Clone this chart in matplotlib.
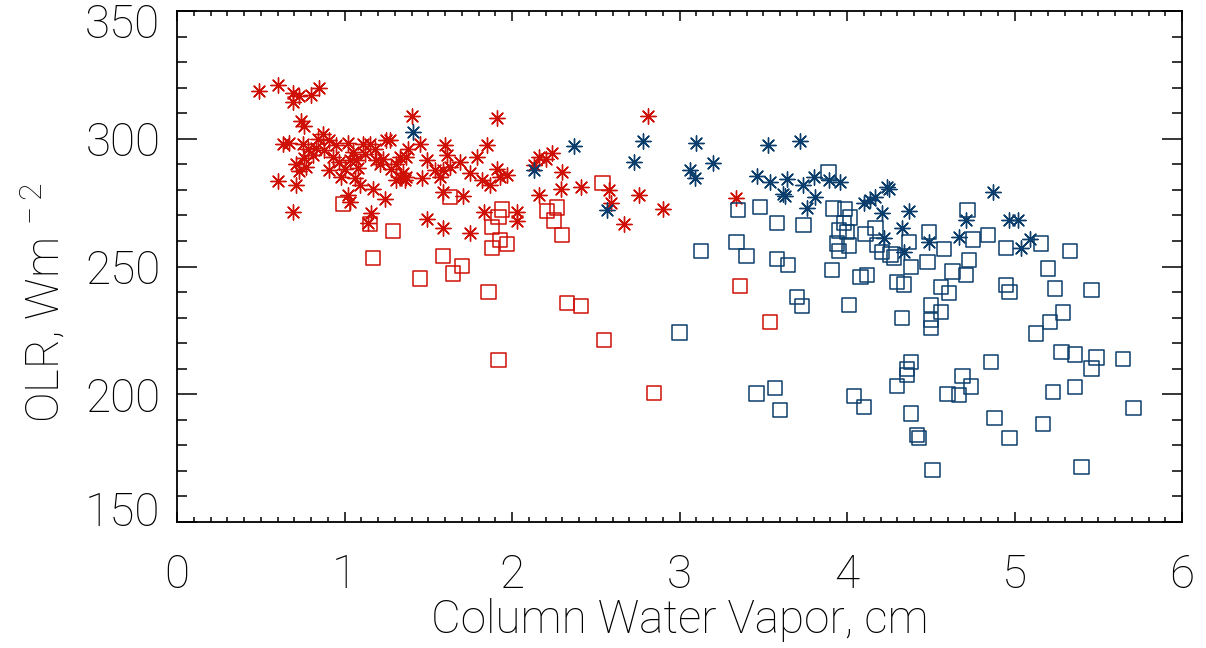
import matplotlib
matplotlib.use("Agg")
import matplotlib.pyplot as plt
from matplotlib.ticker import MultipleLocator
from matplotlib.transforms import ScaledTranslation

# red = dry season, blue = wet season ; asterisks = clear, squares = cloudy
red_star_x = [0.49, 0.60, 0.69, 0.73, 0.80, 0.85, 0.69, 0.74, 0.76, 0.63, 0.67, 0.75, 0.71, 0.77,
              0.81, 0.84, 0.87, 0.91, 0.95, 0.60, 0.71, 0.69, 0.91, 0.98, 1.02, 1.03, 1.07, 1.06,
              1.09, 1.11, 1.15, 1.19, 1.21, 1.25, 1.27, 1.17, 1.24, 1.02, 1.03, 1.16, 1.14, 1.31,
              1.33, 1.35, 1.31, 1.36, 1.40, 1.45, 1.46, 1.49, 1.49, 0.78, 0.83, 0.88, 0.93, 0.97,
              1.00, 1.05, 1.08, 1.12, 1.18, 1.23, 1.28, 1.33, 1.37, 1.38, 0.73, 0.76, 1.37, 1.54,
              1.57, 1.59, 1.60, 1.61, 1.63, 1.69, 1.79, 1.85, 1.75, 1.82, 1.87, 1.91, 1.93, 1.97,
              1.59, 1.71, 1.91, 2.13, 2.16, 2.20, 2.24, 2.30, 2.16, 2.29, 2.41, 2.58, 2.59, 2.76,
              2.81, 2.90, 2.67, 1.83, 2.03, 2.03, 1.59, 1.75, 3.34]
red_star_y = [318.7, 321.0, 318.0, 316.7, 317.0, 320.0, 314.4, 307.0, 305.0, 298.0, 298.5, 298.0,
              290.0, 289.0, 293.6, 300.0, 302.0, 299.5, 297.5, 283.5, 282.0, 271.4, 287.7, 285.0,
              298.4, 291.6, 291.6, 284.6, 282.0, 298.0, 298.0, 291.6, 290.0, 299.5, 299.5, 280.5,
              276.6, 278.0, 275.3, 270.8, 266.9, 290.0, 293.0, 286.4, 283.8, 283.8, 309.0, 298.0,
              284.5, 291.6, 268.5, 296.0, 296.5, 295.5, 293.0, 291.0, 288.0, 295.0, 288.5, 294.0,
              296.0, 292.0, 288.0, 285.0, 293.0, 296.0, 287.5, 292.5, 285.0, 287.7, 285.0, 287.7,
              297.5, 293.6, 289.0, 291.0, 293.0, 297.5, 286.4, 283.8, 281.8, 288.3, 285.0, 285.7,
              279.2, 277.5, 308.0, 289.7, 293.0, 292.0, 294.3, 287.0, 278.0, 280.5, 281.0, 280.0,
              274.7, 278.0, 309.0, 272.4, 266.6, 271.4, 271.4, 268.0, 265.2, 263.2, 277.0]

red_sq_x = [0.99, 1.15, 1.17, 1.29, 1.45, 1.59, 1.63, 1.65, 1.70, 1.86, 1.88, 1.88, 1.92, 1.94,
            1.93, 1.97, 1.92, 2.21, 2.27, 2.25, 2.30, 2.33, 2.41, 2.54, 2.55, 2.85, 3.36, 3.54]
red_sq_y = [274.4, 266.6, 253.3, 264.0, 245.3, 254.2, 277.3, 247.3, 250.3, 239.9, 265.5, 257.1,
            269.4, 272.3, 260.3, 258.8, 213.4, 271.7, 273.1, 268.0, 262.3, 235.8, 234.5, 282.8,
            221.2, 200.6, 242.3, 228.4]

blue_star_x = [1.41, 2.13, 2.37, 2.57, 2.73, 2.78, 3.06, 3.09, 3.10, 3.20, 3.46, 3.53, 3.54, 3.62,
               3.63, 3.64, 3.72, 3.74, 3.76, 3.80, 3.81, 3.89, 3.96, 4.10, 4.14, 4.17, 4.25, 4.24,
               4.21, 4.37, 4.33, 4.22, 4.34, 4.49, 4.67, 4.71, 4.87, 4.97, 5.02, 5.09, 5.04]
blue_star_y = [302.5, 287.7, 297.3, 272.0, 291.0, 299.3, 287.7, 284.5, 298.5, 290.6, 285.4, 297.5,
               283.2, 278.5, 277.5, 284.2, 299.2, 281.8, 273.0, 285.0, 277.3, 284.0, 282.9, 275.0,
               276.0, 277.3, 280.3, 281.0, 270.8, 271.8, 265.2, 261.0, 255.8, 259.4, 261.4, 268.2,
               279.0, 268.2, 268.2, 260.7, 257.1]

blue_sq_x = [3.00, 3.13, 3.35, 3.48, 3.58, 3.74, 3.89, 3.92, 3.99, 4.02, 3.98, 3.95, 4.00, 4.11,
             3.94, 4.01, 3.95, 4.17, 4.18, 4.21, 4.26, 4.28, 4.37, 4.38, 3.34, 3.40, 3.58, 3.65,
             3.91, 4.08, 4.12, 4.30, 4.34, 3.70, 3.73, 4.01, 4.33, 4.49, 4.48, 4.58, 4.63, 4.71,
             4.56, 4.61, 4.50, 4.56, 4.50, 4.50, 4.72, 4.75, 4.84, 4.73, 4.95, 4.95, 4.97, 5.16,
             5.33, 5.20, 5.24, 5.46, 5.29, 5.21, 5.13, 5.28, 5.36, 5.49, 5.46, 5.65, 4.86, 4.69,
             4.74, 4.67, 4.60, 5.23, 5.36, 5.71, 4.88, 5.17, 4.97, 5.40, 4.38, 4.36, 4.36, 4.30,
             4.38, 4.42, 4.43, 4.51, 3.46, 3.57, 3.60, 4.04, 4.10]
blue_sq_y = [224.2, 256.1, 272.0, 273.2, 267.1, 266.2, 287.0, 272.7, 272.4, 269.2, 266.9, 264.1,
             263.6, 262.6, 259.0, 258.2, 256.2, 265.2, 258.4, 255.8, 254.7, 253.5, 259.7, 249.9,
             259.7, 254.1, 253.0, 250.5, 248.6, 246.0, 246.6, 244.0, 243.0, 238.1, 234.5, 234.9,
             229.7, 263.6, 251.8, 256.7, 248.0, 246.6, 242.1, 239.7, 235.0, 232.3, 229.0, 225.8,
             272.2, 260.6, 262.3, 252.6, 257.1, 242.7, 240.0, 259.0, 256.2, 249.2, 241.4, 240.8,
             232.0, 228.4, 223.8, 216.6, 215.6, 214.4, 210.1, 213.8, 212.7, 207.1, 203.0, 199.7,
             200.1, 201.0, 202.9, 194.5, 190.6, 188.3, 182.8, 171.4, 212.7, 210.0, 207.5, 203.3,
             192.5, 184.0, 183.0, 170.3, 200.3, 202.3, 193.8, 199.3, 195.1]

xticks = [0, 1, 2, 3, 4, 5, 6]
yticks = [150, 200, 250, 300, 350]

RED = "#cf1006"
BLUE = "#0b3e6c"

plt.rcParams["font.family"] = ["Roboto", "DejaVu Sans"]
plt.rcParams["font.weight"] = 100
plt.rcParams["axes.labelweight"] = 100
plt.rcParams["mathtext.fontset"] = "custom"
plt.rcParams["mathtext.rm"] = "Roboto:weight=100"
plt.rcParams["mathtext.default"] = "regular"

fig = plt.figure(figsize=(12.06, 6.48), dpi=100)
ax = fig.add_axes([177 / 1206, 1 - 522 / 648, 1005 / 1206, 511 / 648])

star = (8, 2, 0)
ax.scatter(red_star_x, red_star_y, marker=star, s=120, c=RED, linewidths=1.0)
ax.scatter(red_sq_x, red_sq_y, marker="s", s=105, facecolors="none", edgecolors=RED, linewidths=1.1)
ax.scatter(blue_star_x, blue_star_y, marker=star, s=120, c=BLUE, linewidths=1.0)
ax.scatter(blue_sq_x, blue_sq_y, marker="s", s=105, facecolors="none", edgecolors=BLUE, linewidths=1.1)

ax.set_xlim(0, 6)
ax.set_ylim(150, 350)
ax.set_xticks(xticks)
ax.set_yticks(yticks)
ax.xaxis.set_minor_locator(MultipleLocator(0.1))
ax.yaxis.set_minor_locator(MultipleLocator(10))

for s in ax.spines.values():
    s.set_linewidth(1.3)
ax.tick_params(axis="both", which="both", direction="in", top=True, right=True, width=1.1, colors="black")
ax.tick_params(axis="x", which="major", length=7.2, pad=22, labelsize=33)
ax.tick_params(axis="x", which="minor", length=3.6)
ax.tick_params(axis="y", which="major", length=14.4, pad=12, labelsize=33)
ax.tick_params(axis="y", which="minor", length=7.2)

# end labels on the y axis sit just inside the axis range
ylabels = ax.get_yticklabels()
ylabels[0].set_transform(ylabels[0].get_transform() + ScaledTranslation(0, 10 / 72, fig.dpi_scale_trans))
ylabels[-1].set_transform(ylabels[-1].get_transform() + ScaledTranslation(0, -7 / 72, fig.dpi_scale_trans))

ax.set_xlabel("Column Water Vapor, cm", fontsize=33, labelpad=1)
ax.set_ylabel("OLR, Wm$^{\\,-2}$", fontsize=33)
ax.yaxis.set_label_coords(-0.108, 0.43)

fig.savefig("out.png", dpi=100)
